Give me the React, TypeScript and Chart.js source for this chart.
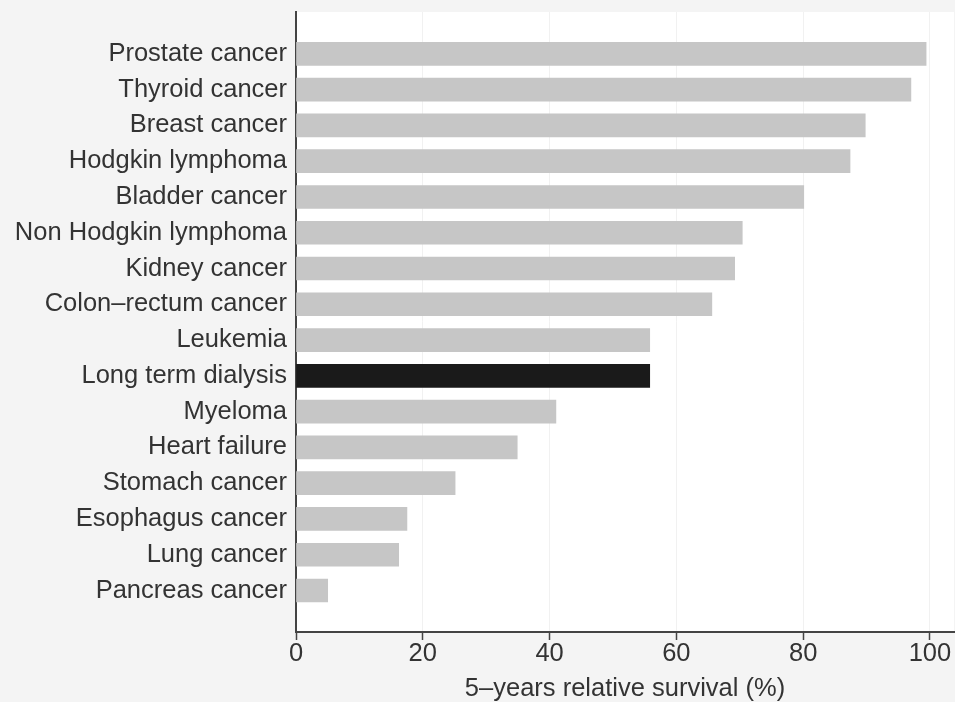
import React, { useEffect, useRef } from "react";
import { Chart, registerables } from "chart.js";

Chart.register(...registerables);

const categories: string[] = [
  "Prostate cancer",
  "Thyroid cancer",
  "Breast cancer",
  "Hodgkin lymphoma",
  "Bladder cancer",
  "Non Hodgkin lymphoma",
  "Kidney cancer",
  "Colon\u2013rectum cancer",
  "Leukemia",
  "Long term dialysis",
  "Myeloma",
  "Heart failure",
  "Stomach cancer",
  "Esophagus cancer",
  "Lung cancer",
  "Pancreas cancer",
];

const survival: number[] = [99.4, 97.0, 89.8, 87.4, 80.1, 70.4, 69.2, 65.6, 55.8, 55.8, 41.0, 34.9, 25.1, 17.5, 16.2, 5.0];

const highlighted: string = "Long term dialysis";

const xTicks: number[] = [0, 20, 40, 60, 80, 100];

const xTitle = "5\u2013years relative survival (%)";

const FONT = "'Liberation Sans', Arial, Helvetica, sans-serif";
const TEXT = "#333333";

const plotBg = {
  id: "plotBg",
  beforeDraw(chart: any) {
    const { ctx, chartArea } = chart;
    if (!chartArea) return;
    ctx.save();
    ctx.fillStyle = "#ffffff";
    ctx.fillRect(chartArea.left, chartArea.top, chartArea.right - chartArea.left, chartArea.bottom - chartArea.top);
    ctx.restore();
  },
};

export default function App() {
  const ref = useRef<HTMLCanvasElement | null>(null);

  useEffect(() => {
    document.body.style.margin = "0";
    document.body.style.background = "#f4f4f4";
    if (!ref.current) return;
    const data = categories.map((c, i) => ({ x: survival[i], y: i }));
    const chart = new Chart(ref.current, {
      type: "bar",
      data: {
        datasets: [
          {
            data: data as any,
            backgroundColor: categories.map((c) => (c === highlighted ? "#1a1a1a" : "#c6c6c6")),
            borderWidth: 0,
            barThickness: 23,
          },
        ],
      },
      plugins: [plotBg],
      options: {
        indexAxis: "y",
        animation: false,
        responsive: true,
        maintainAspectRatio: false,
        layout: { padding: { top: 12, right: 1, left: 0, bottom: 0 } },
        plugins: {
          legend: { display: false },
          tooltip: { enabled: false },
        },
        scales: {
          x: {
            type: "linear",
            min: 0,
            max: 103.8,
            offset: false,
            afterBuildTicks: (scale: any) => {
              scale.ticks = xTicks.map((v) => ({ value: v }));
            },
            afterFit: (scale: any) => {
              scale.height = 70;
            },
            grid: {
              color: "#f1f1f1",
              lineWidth: 1,
              drawTicks: true,
              tickLength: 8,
              tickColor: "#444444",
              tickWidth: 1.5,
            },
            border: { display: true, color: "#444444", width: 2 },
            ticks: {
              color: TEXT,
              padding: 1,
              font: { family: FONT, size: 25.5, lineHeight: 1 },
              maxRotation: 0,
            },
            title: {
              display: true,
              text: xTitle,
              color: TEXT,
              font: { family: FONT, size: 25.5, lineHeight: 1 },
              padding: { top: 10, bottom: 0 },
            },
          },
          y: {
            type: "linear",
            reverse: true,
            offset: false,
            min: -1.17,
            max: 16.16,
            afterBuildTicks: (scale: any) => {
              scale.ticks = categories.map((_, i) => ({ value: i }));
            },
            afterFit: (scale: any) => {
              scale.width = 296;
              scale.paddingTop = 0;
              scale.paddingBottom = 0;
            },
            grid: { display: false, drawTicks: false, offset: false },
            border: { display: true, color: "#444444", width: 2 },
            ticks: {
              color: TEXT,
              padding: 9,
              autoSkip: false,
              font: { family: FONT, size: 25.5, lineHeight: 1 },
              callback: (v: any) => categories[Number(v)] ?? "",
            },
          },
        },
      },
    });
    return () => chart.destroy();
  }, []);

  return (
    <div style={{ width: 955, height: 702, position: "relative", background: "#f4f4f4" }}>
      <canvas ref={ref} />
    </div>
  );
}
